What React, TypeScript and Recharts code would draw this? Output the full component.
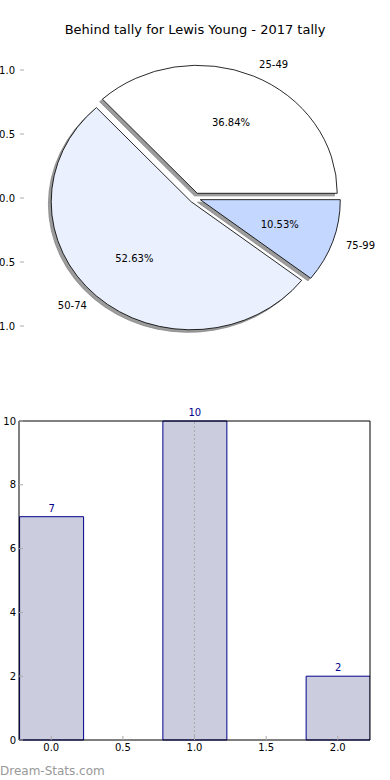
import React from "react";
import {
  ComposedChart,
  Bar,
  Line,
  XAxis,
  YAxis,
  LabelList,
  ReferenceLine,
  PieChart,
  Pie,
  Cell,
} from "recharts";

// data
const categories = ["25-49", "50-74", "75-99"];
const counts = [7, 10, 2];
const barPositions = [0, 1, 2];
const sliceColors = ["#ffffff", "#eaf0fd", "#c4d7ff"];
const explode = [0.04, 0.04, 0.04];
const pieAxisTicks = [-1, -0.5, 0, 0.5, 1];
const barXTicks = [0, 0.5, 1, 1.5, 2];
const barYTicks = [0, 2, 4, 6, 8, 10];

const FONT = '"DejaVu Sans", sans-serif';
const PIE_CX = 195;
const PIE_CY = 198;
const PIE_R = 128;
// matplotlib axes were not equal-aspect, so the pie is a bit wider than tall
const X_STRETCH = 140 / 128;
const SHADOW = 0.02 * PIE_R;

const pieData = categories.map((name, i) => ({ name, value: counts[i] }));
const barData = categories.map((name, i) => ({ name, x: barPositions[i], count: counts[i] }));
const axisData = pieAxisTicks.map((t) => ({ t }));

const total = counts.reduce((a, b) => a + b, 0);
let acc = 0;
const offsets = counts.map((c, i) => {
  const mid = ((acc + c / 2) / total) * 2 * Math.PI;
  acc += c;
  return { dx: explode[i] * PIE_R * Math.cos(mid), dy: -explode[i] * PIE_R * Math.sin(mid) };
});

const textStyle = { fontSize: 10, fontFamily: FONT, fill: "#000" };

const makeLabel = (k: number) => (props: any) => {
  if (props.index !== k) return null;
  const { cx, cy, midAngle, outerRadius } = props;
  const rad = (-midAngle * Math.PI) / 180;
  const lx = cx + outerRadius * 1.1 * Math.cos(rad);
  const ly = cy + outerRadius * 1.1 * Math.sin(rad);
  const px = cx + outerRadius * 0.6 * Math.cos(rad);
  const py = cy + outerRadius * 0.6 * Math.sin(rad);
  const squash = `scale(${1 / X_STRETCH},1)`;
  const pct = ((counts[k] / total) * 100).toFixed(2) + "%";
  return (
    <g>
      <text
        transform={`translate(${lx},${ly}) ${squash}`}
        textAnchor={Math.cos(rad) >= 0 ? "start" : "end"}
        dominantBaseline="central"
        {...textStyle}
      >
        {categories[k]}
      </text>
      <text transform={`translate(${px},${py}) ${squash}`} textAnchor="middle" dominantBaseline="central" {...textStyle}>
        {pct}
      </text>
    </g>
  );
};

export default function App() {
  return (
    <div style={{ position: "absolute", left: 0, top: 0, width: 390, height: 780, background: "#fff", fontFamily: FONT }}>
      <div
        style={{ position: "absolute", left: 0, top: 22, width: 390, textAlign: "center", fontSize: 13, lineHeight: "15px", color: "#000" }}
      >
        Behind tally for Lewis Young - 2017 tally
      </div>

      {/* invisible axes around the pie, only ticks show */}
      <div style={{ position: "absolute", left: 0, top: 0 }}>
        <ComposedChart width={390} height={400} data={axisData} margin={{ top: 70, right: 0, bottom: 74, left: 0 }}>
          <XAxis hide dataKey="t" type="number" domain={[-1, 1]} />
          <YAxis
            yAxisId="l"
            type="number"
            domain={[-1, 1]}
            ticks={pieAxisTicks}
            interval={0}
            width={20}
            axisLine={false}
            tickSize={-4}
            tickMargin={9}
            tickLine={{ stroke: "#aaa" }}
            tick={textStyle}
            tickFormatter={(v: number) => v.toFixed(1)}
          />
          <YAxis
            yAxisId="r"
            orientation="right"
            type="number"
            domain={[-1, 1]}
            ticks={pieAxisTicks}
            interval={0}
            width={20}
            axisLine={false}
            tickSize={-4}
            tickLine={{ stroke: "#aaa" }}
            tick={false}
          />
          <Line yAxisId="l" dataKey="t" stroke="none" dot={false} isAnimationActive={false} />
        </ComposedChart>
      </div>

      <div
        style={{
          position: "absolute",
          left: 0,
          top: 0,
          transform: `scaleX(${X_STRETCH})`,
          transformOrigin: `${PIE_CX}px 0px`,
        }}
      >
        <PieChart width={390} height={400} margin={{ top: 0, right: 0, bottom: 0, left: 0 }}>
          {offsets.map((o, k) => (
            <Pie
              key={"s" + k}
              data={pieData}
              dataKey="value"
              cx={PIE_CX + o.dx - SHADOW}
              cy={PIE_CY + o.dy + SHADOW}
              outerRadius={PIE_R}
              startAngle={0}
              endAngle={360}
              labelLine={false}
              isAnimationActive={false}
            >
              {pieData.map((d, i) => (
                <Cell key={d.name} fill={i === k ? "#9c9c9c" : "none"} stroke={i === k ? "#8a8a8a" : "none"} strokeWidth={0.8} />
              ))}
            </Pie>
          ))}
          {offsets.map((o, k) => (
            <Pie
              key={"w" + k}
              data={pieData}
              dataKey="value"
              cx={PIE_CX + o.dx}
              cy={PIE_CY + o.dy}
              outerRadius={PIE_R}
              startAngle={0}
              endAngle={360}
              labelLine={false}
              label={makeLabel(k)}
              isAnimationActive={false}
            >
              {pieData.map((d, i) => (
                <Cell key={d.name} fill={i === k ? sliceColors[i] : "none"} stroke={i === k ? "#000" : "none"} strokeWidth={0.8} />
              ))}
            </Pie>
          ))}
        </PieChart>
      </div>

      <div style={{ position: "absolute", left: 0, top: 400 }}>
        <ComposedChart width={390} height={360} data={barData} margin={{ top: 20, right: 0, bottom: 0, left: 0 }}>
          <XAxis
            dataKey="x"
            type="number"
            domain={[-0.225, 2.225]}
            ticks={barXTicks}
            interval={0}
            allowDataOverflow
            height={20}
            tickSize={-4}
            tickMargin={8}
            axisLine={{ stroke: "#000" }}
            tickLine={{ stroke: "#aaa" }}
            tick={textStyle}
            tickFormatter={(v: number) => v.toFixed(1)}
          />
          <XAxis
            xAxisId="top"
            dataKey="x"
            orientation="top"
            type="number"
            domain={[-0.225, 2.225]}
            ticks={barXTicks}
            interval={0}
            allowDataOverflow
            height={1}
            tickSize={-4}
            axisLine={{ stroke: "#000" }}
            tickLine={{ stroke: "#aaa" }}
            tick={false}
          />
          <YAxis
            type="number"
            domain={[0, 10]}
            ticks={barYTicks}
            interval={0}
            width={19}
            tickSize={-4}
            tickMargin={7}
            axisLine={{ stroke: "#000" }}
            tickLine={{ stroke: "#aaa" }}
            tick={textStyle}
          />
          <YAxis
            yAxisId="right"
            orientation="right"
            type="number"
            domain={[0, 10]}
            ticks={barYTicks}
            interval={0}
            width={20}
            tickSize={-4}
            axisLine={{ stroke: "#000" }}
            tickLine={{ stroke: "#aaa" }}
            tick={false}
          />
          <Bar dataKey="count" barSize={64} fill="#ccccdf" stroke="#00008b" strokeWidth={1} isAnimationActive={false}>
            <LabelList dataKey="count" position="top" offset={5} fill="#00008b" fontSize={10} fontFamily={FONT} />
          </Bar>
          <ReferenceLine x={1} stroke="#aaa" strokeDasharray="2 2" />
        </ComposedChart>
      </div>

      <div style={{ position: "absolute", left: 0, top: 764, fontSize: 12, lineHeight: "14px", color: "#999" }}>
        Dream-Stats.com
      </div>
    </div>
  );
}
